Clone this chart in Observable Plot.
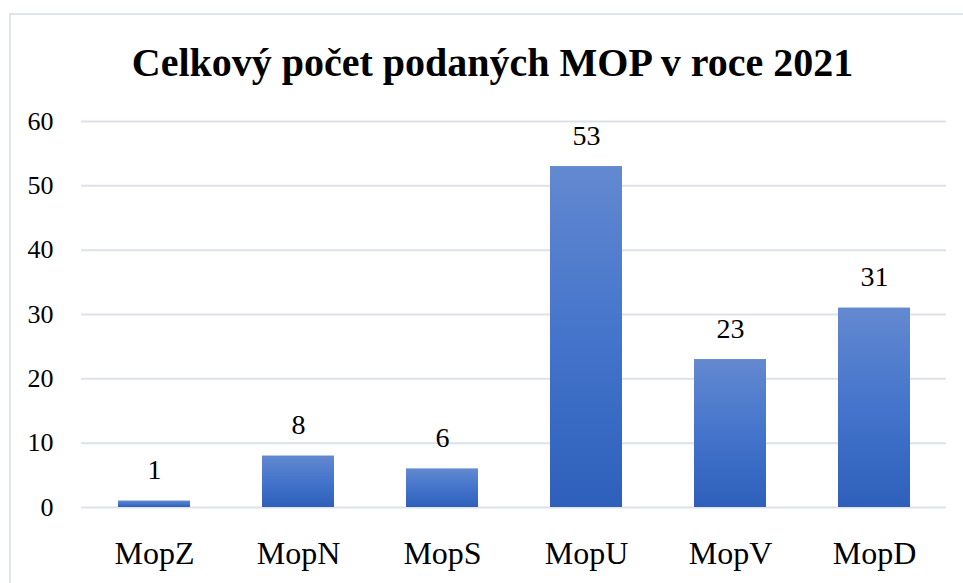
<!DOCTYPE html>
<html>
<head>
<meta charset="utf-8">
<script src="https://cdn.jsdelivr.net/npm/d3@7"></script>
<script src="https://cdn.jsdelivr.net/npm/@observablehq/plot@0.6"></script>
<style>
  html, body { margin: 0; padding: 0; background: #fff; }
  #wrap { position: relative; width: 963px; height: 583px; overflow: hidden; }
  #frame { position: absolute; left: 9px; top: 13px; width: 2000px; height: 2000px;
           border-left: 2px solid #e0e4eb; border-top: 2px solid #e0e4eb; }
  #title { position: absolute; left: 0; top: 0; width: 963px; height: 100px;
           font-family: "Liberation Serif", serif; font-weight: bold; font-size: 40px;
           color: #000; text-align: center; line-height: 1; }
  #title span { position: absolute; left: 0; right: 0; top: 43px; padding-left: 22px; white-space: nowrap; }
  #chart { position: absolute; left: 0; top: 100px; }
  #chart svg text { font-family: "Liberation Serif", serif; }
</style>
</head>
<body>
<div id="wrap">
  <div id="frame"></div>
  <div id="title"><span>Celkový počet podaných MOP v roce 2021</span></div>
  <div id="chart"></div>
</div>
<script>
const categories = ["MopZ", "MopN", "MopS", "MopU", "MopV", "MopD"];
const values = [1, 8, 6, 53, 23, 31];
const yTicks = [0, 10, 20, 30, 40, 50, 60];

const data = categories.map((c, i) => ({category: c, value: values[i]}));

const plot = Plot.plot({
  width: 963,
  height: 483,
  marginTop: 21,
  marginBottom: 76,
  marginLeft: 81,
  marginRight: 17,
  style: {fontFamily: "'Liberation Serif', serif", background: "transparent", color: "#000"},
  x: {domain: categories, paddingInner: 0.5, paddingOuter: 0.25, label: null},
  y: {domain: [0, 60], label: null},
  marks: [
    Plot.ruleY(yTicks, {stroke: "#dde1e8", strokeWidth: 2}),
    Plot.barY(data, {x: "category", y: "value", fill: "url(#barGrad)"}),
    Plot.text(data, {x: "category", y: "value", text: d => String(d.value), dy: -31, fontSize: 28, fill: "#000"}),
    Plot.axisY(yTicks, {tickSize: 0, tickPadding: 28, fontSize: 26, fill: "#000", label: null}),
    Plot.axisX({tickSize: 0, tickPadding: 34, fontSize: 32, fill: "#000", label: null})
  ]
});

const defs = d3.select(plot).insert("defs", ":first-child");
const g = defs.append("linearGradient").attr("id", "barGrad")
  .attr("x1", 0).attr("y1", 0).attr("x2", 0).attr("y2", 1);
g.append("stop").attr("offset", "0%").attr("stop-color", "#6389d0");
g.append("stop").attr("offset", "50%").attr("stop-color", "#4474cb");
g.append("stop").attr("offset", "100%").attr("stop-color", "#2e60bb");

document.getElementById("chart").appendChild(plot);
</script>
</body>
</html>
